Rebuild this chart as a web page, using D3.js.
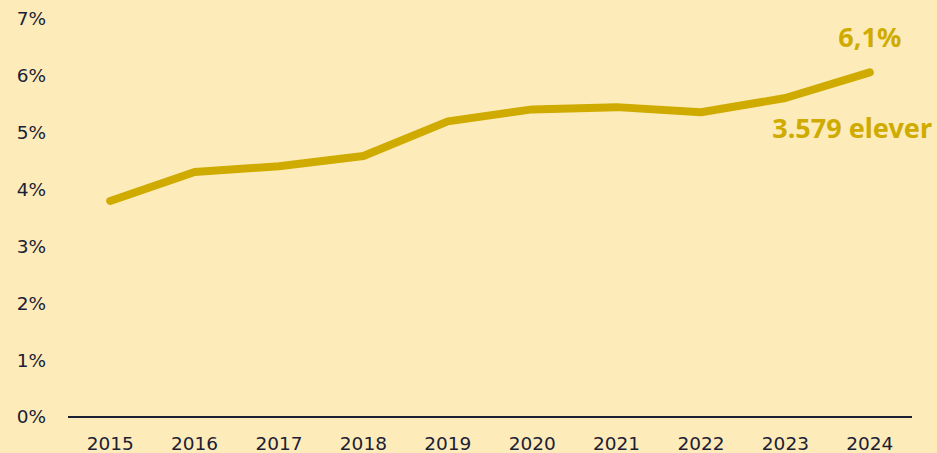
<!DOCTYPE html>
<html>
<head>
<meta charset="utf-8">
<script src="https://cdn.jsdelivr.net/npm/d3@7"></script>
<style>
  html, body { margin: 0; padding: 0; background: #fdecb9; }
  svg { display: block; }
  .tick-label { font-family: 'DejaVu Sans', 'Noto Sans', sans-serif; font-size: 18.5px; fill: #1b2035; }
  .note { font-family: 'Noto Sans', 'Lato', sans-serif; font-weight: 700; font-size: 27px; fill: #cfab00; }
</style>
</head>
<body>
<div id="chart"></div>
<script>
// Data
const years = ['2015', '2016', '2017', '2018', '2019', '2020', '2021', '2022', '2023', '2024'];
const shares = [3.8, 4.31, 4.41, 4.59, 5.2, 5.41, 5.45, 5.36, 5.61, 6.06];
const yTicks = [0, 1, 2, 3, 4, 5, 6, 7];
const lastValueLabel = '6,1%';
const lastCountLabel = '3.579 elever';

const width = 937;
const height = 453;
const margin = { top: 19, right: 25, bottom: 36, left: 68 };

const svg = d3.select('#chart')
  .append('svg')
  .attr('width', width)
  .attr('height', height);

svg.append('rect')
  .attr('width', width)
  .attr('height', height)
  .attr('fill', '#fdecb9');

// scales
const x = d3.scalePoint()
  .domain(years)
  .range([margin.left, width - margin.right])
  .padding(0.5);

const y = d3.scaleLinear()
  .domain([0, 7])
  .range([height - margin.bottom, margin.top]);

// y labels (no axis line)
svg.append('g')
  .selectAll('text')
  .data(yTicks)
  .enter()
  .append('text')
  .attr('class', 'tick-label')
  .attr('x', 46)
  .attr('y', d => y(d))
  .attr('dy', '0.35em')
  .attr('text-anchor', 'end')
  .text(d => d + '%');

// x axis baseline
svg.append('line')
  .attr('x1', margin.left)
  .attr('x2', width - margin.right)
  .attr('y1', y(0))
  .attr('y2', y(0))
  .attr('stroke', '#1b2035')
  .attr('stroke-width', 2);

// x labels
svg.append('g')
  .selectAll('text')
  .data(years)
  .enter()
  .append('text')
  .attr('class', 'tick-label')
  .attr('x', d => x(d))
  .attr('y', y(0) + 33)
  .attr('text-anchor', 'middle')
  .text(d => d);

// line
const line = d3.line()
  .x((d, i) => x(years[i]))
  .y(d => y(d));

svg.append('path')
  .datum(shares)
  .attr('d', line)
  .attr('fill', 'none')
  .attr('stroke', '#cfab00')
  .attr('stroke-width', 8)
  .attr('stroke-linecap', 'round')
  .attr('stroke-linejoin', 'round');

// end labels
const lastX = x(years[years.length - 1]);
const lastY = y(shares[shares.length - 1]);

svg.append('text')
  .attr('class', 'note')
  .attr('x', lastX)
  .attr('y', lastY - 25)
  .attr('text-anchor', 'middle')
  .text(lastValueLabel);

svg.append('text')
  .attr('class', 'note')
  .attr('x', width - 5)
  .attr('y', lastY + 66)
  .attr('text-anchor', 'end')
  .text(lastCountLabel);
</script>
</body>
</html>
